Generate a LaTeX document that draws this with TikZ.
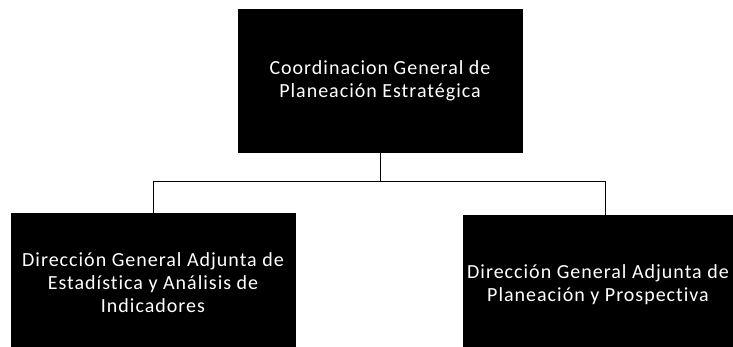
\documentclass[tikz,border=0pt]{standalone}
\usepackage{fontspec}
\usepackage{xcolor}
\usepackage{tikz}
\usetikzlibrary{positioning}
\newfontfamily\orgfont{Carlito}[LetterSpace=5,Ligatures=NoCommon]
\definecolor{Ink}{HTML}{000000}
\definecolor{Paper}{HTML}{FFFFFF}

\begin{document}
\begin{tikzpicture}[x=1pt,y=1pt,
    unidad/.style={fill=Ink,draw=Ink,text=Paper,minimum width=284pt,inner sep=0pt,
        align=center,font=\orgfont\fontsize{20}{23}\selectfont}]
  \useasboundingbox (0,0) rectangle (733,347);
  \node[unidad,minimum height=143pt] (cgpe) at (380,266.5)
    {Coordinacion General de\\Planeación Estratégica};
  \node[unidad,minimum height=140pt] (estad) at (153,64)
    {Dirección General Adjunta de\\Estadística y Análisis de\\Indicadores};
  \node[unidad,minimum width=270pt,minimum height=140pt] (prosp) at (598,62)
    {Dirección General Adjunta de\\Planeación y Prospectiva};

  \draw[line width=0.9pt,color=Ink] (cgpe.south) -- ++(0,-29) coordinate (split);
  \draw[line width=0.9pt,color=Ink] (split) -| (estad.north);
  \draw[line width=0.9pt,color=Ink] (split) -| ([xshift=7pt]prosp.north);
\end{tikzpicture}
\end{document}
